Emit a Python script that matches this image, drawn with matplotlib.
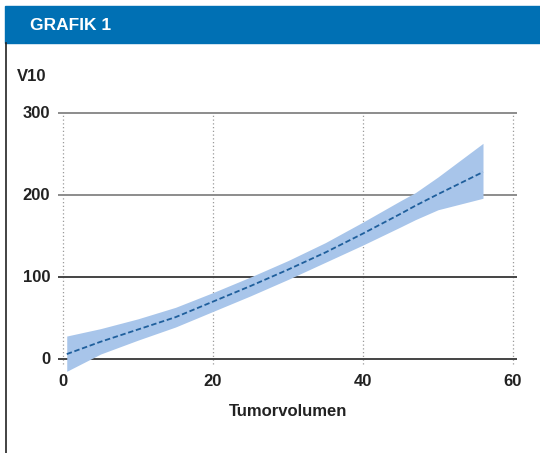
import matplotlib
matplotlib.use('Agg')
import matplotlib.pyplot as plt
from matplotlib.patches import Rectangle

plt.rcParams['font.family'] = ['Liberation Sans Narrow', 'Liberation Sans', 'DejaVu Sans']
plt.rcParams['font.weight'] = 'bold'

# fitted curve with confidence band
volume = [0.5, 5, 10, 15, 20, 25, 30, 35, 40, 45, 47, 50, 56]
v10 = [6, 21, 36, 51, 70, 89, 109, 130, 153, 177, 187, 201, 228]
upper = [28, 37, 49, 63, 81, 100, 120, 142, 167, 193, 203, 222, 263]
lower = [-15, 6, 23, 39, 58, 77, 97, 118, 139, 161, 170, 182, 196]

y_ticks = [0, 100, 200, 300]
x_ticks = [0, 20, 40, 60]

fig = plt.figure(figsize=(5.4, 4.53), dpi=100)

# header bar and frame
fig.patches.append(Rectangle((5/540, 1 - 43/453), 535/540, 37/453,
                             transform=fig.transFigure, color='#0070b4', zorder=0))
fig.lines.append(plt.Line2D([5.5/540, 5.5/540], [0, 1 - 43/453], transform=fig.transFigure,
                            color='#222222', lw=1.2))
fig.text(30/540, 1 - 25/453, 'GRAFIK 1', color='white', fontsize=12.5,
         fontweight='bold', va='center', ha='left')

ax = fig.add_axes([55.5/540, 81.7/453, 465/540, 262.4/453])
ax.set_xlim(-1, 61)
ax.set_ylim(-15, 305)
for s in ax.spines.values():
    s.set_visible(False)
ax.set_xticks([])
ax.set_yticks([])

# grid
for x in x_ticks:
    ax.vlines(x, -6, 300, color='#9a9a9a', lw=0.9, linestyles=(0, (1, 2)), zorder=1)
for y in y_ticks:
    c = '#444444' if y <= 100 else '#8c8c8c'
    ax.hlines(y, -0.7, 60.5, color=c, lw=1.4, zorder=1)

ax.fill_between(volume, lower, upper, color='#a8c5ea', lw=0, zorder=2)
ax.plot(volume, v10, color='#1f5f9c', lw=1.3, ls=(0, (3, 1.5)), zorder=3)

for y in y_ticks:
    ax.text(-1.7, y, str(y), ha='right', va='center', fontsize=12, color='#222222')
for x in x_ticks:
    ax.text(x, -28, str(x), ha='center', va='center', fontsize=12, color='#222222')
ax.text(30, -64, 'Tumorvolumen', ha='center', va='center', fontsize=12, color='#222222')
ax.text(-6.2, 345, 'V10', ha='left', va='center', fontsize=12, color='#222222', clip_on=False)

fig.savefig('out.png', dpi=100)
